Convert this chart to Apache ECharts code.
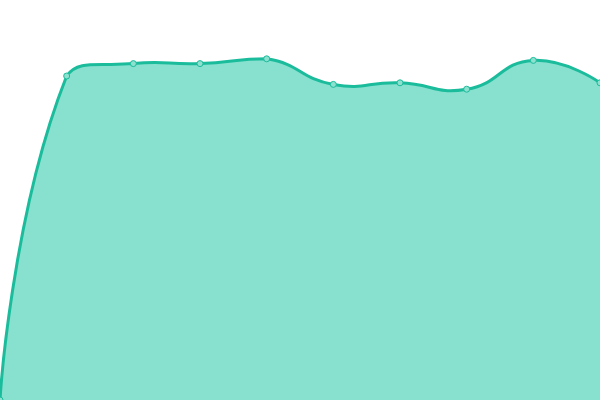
<!DOCTYPE html>
<html>
<head>
    <meta charset="UTF-8">
    <title>Area</title>
    <script src="https://cdn.jsdelivr.net/npm/echarts@6/dist/echarts.min.js"></script>
    <style>
        html, body { margin: 0; padding: 0; }
    </style>
</head>
<body>
    <div id="main" style="width: 600px; height: 400px;"></div>
    <script>
        // categories and values
        var categories = ['1', '2', '3', '4', '5', '6', '7', '8', '9', '10'];
        var values = [0, 81, 84.1, 84.1, 85.3, 78.9, 79.3, 77.7, 84.9, 79.3];

        var lineColor = '#1abc9c';
        var areaColor = '#88e0cf';
        var smooth = 0.5;

        // bezier path through the points, control points kept inside the points' bounding box
        function smoothPath(pts) {
            var minX = Infinity, minY = Infinity, maxX = -Infinity, maxY = -Infinity;
            pts.forEach(function (p) {
                minX = Math.min(minX, p[0]); maxX = Math.max(maxX, p[0]);
                minY = Math.min(minY, p[1]); maxY = Math.max(maxY, p[1]);
            });
            function clamp(c) {
                return [Math.min(Math.max(c[0], minX), maxX), Math.min(Math.max(c[1], minY), maxY)];
            }
            var d = 'M' + pts[0][0] + ' ' + pts[0][1];
            var cp0 = pts[0].slice();
            for (var i = 1; i < pts.length; i++) {
                var p = pts[i], prev = pts[i - 1], next = pts[i + 1];
                var cp1, v = [0, 0], ratio = 0.5;
                if (!next) {
                    cp1 = p.slice();
                } else {
                    v = [next[0] - prev[0], next[1] - prev[1]];
                    var lp = Math.hypot(p[0] - prev[0], p[1] - prev[1]);
                    var ln = Math.hypot(next[0] - p[0], next[1] - p[1]);
                    ratio = ln / (ln + lp);
                    cp1 = [p[0] - v[0] * smooth * (1 - ratio), p[1] - v[1] * smooth * (1 - ratio)];
                }
                var a = clamp(cp0), b = clamp(cp1);
                d += ' C' + a[0] + ' ' + a[1] + ' ' + b[0] + ' ' + b[1] + ' ' + p[0] + ' ' + p[1];
                cp0 = [p[0] + v[0] * smooth * ratio, p[1] + v[1] * smooth * ratio];
            }
            return d;
        }

        var myChart = echarts.init(document.getElementById('main'));

        var option = {
            animation: false,
            grid: { left: 0, right: 0, top: 0, bottom: 0 },
            xAxis: {
                type: 'category',
                boundaryGap: false,
                data: categories,
                show: false
            },
            yAxis: {
                type: 'value',
                min: 0,
                max: 100,
                show: false
            },
            series: [{
                // curve + area
                type: 'custom',
                z: 2,
                data: values.map(function (v, i) { return [i, v]; }),
                renderItem: function (params, api) {
                    if (params.dataIndex !== 0) return;
                    var pts = values.map(function (v, i) { return api.coord([i, v]); });
                    var bottom = api.coord([0, 0])[1];
                    var d = smoothPath(pts);
                    var last = pts[pts.length - 1];
                    return {
                        type: 'group',
                        children: [{
                            type: 'path',
                            shape: { pathData: d + ' L' + last[0] + ' ' + bottom + ' L' + pts[0][0] + ' ' + bottom + ' Z' },
                            style: { fill: areaColor, stroke: null }
                        }, {
                            type: 'path',
                            shape: { pathData: d },
                            style: { fill: null, stroke: lineColor, lineWidth: 3 }
                        }]
                    };
                }
            }, {
                // points
                type: 'line',
                z: 3,
                data: values,
                symbol: 'circle',
                symbolSize: 6,
                lineStyle: { width: 0, opacity: 0 },
                itemStyle: { color: '#8ee0cf', borderColor: lineColor, borderWidth: 1 }
            }]
        };
        myChart.setOption(option);
    </script>
</body>
</html>
